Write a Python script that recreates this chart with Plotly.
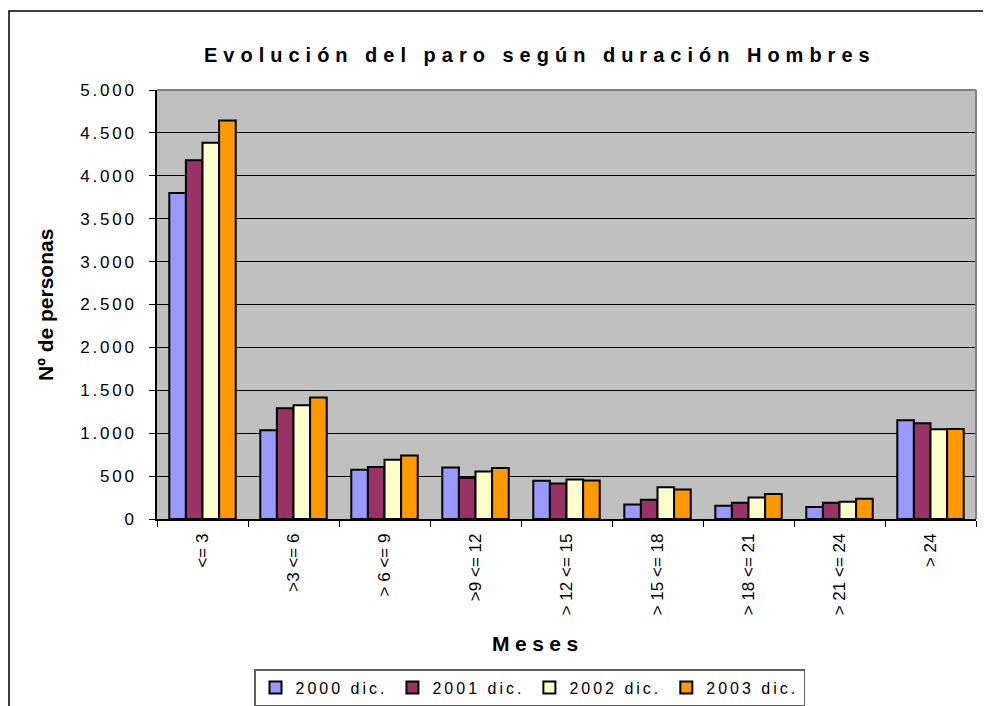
import plotly.graph_objects as go

categories = ["<= 3", ">3 <= 6", "> 6 <= 9", ">9 <= 12", "> 12 <= 15",
              "> 15 <= 18", "> 18 <= 21", "> 21 <= 24", "> 24"]
series_names = ["2000 dic.", "2001 dic.", "2002 dic.", "2003 dic."]
v2000 = [3800, 1035, 575, 600, 445, 170, 155, 140, 1150]
v2001 = [4180, 1290, 605, 480, 415, 225, 190, 190, 1115]
v2002 = [4385, 1325, 690, 555, 460, 370, 250, 200, 1045]
v2003 = [4645, 1415, 740, 595, 450, 345, 290, 235, 1050]
colors = ["#9999FF", "#993366", "#FFFFCC", "#FF9900"]
y_ticks = [0, 500, 1000, 1500, 2000, 2500, 3000, 3500, 4000, 4500, 5000]
y_ticktext = ["0", "500", "1.000", "1.500", "2.000", "2.500", "3.000",
              "3.500", "4.000", "4.500", "5.000"]

FONT = "Arial, 'Liberation Sans', sans-serif"


def sp(t, ls=3.5):
    return f"<span style='letter-spacing:{ls}px'>{t}</span>"


fig = go.Figure()
for name, vals, col in zip(series_names, [v2000, v2001, v2002, v2003], colors):
    fig.add_trace(go.Bar(
        x=categories, y=vals, name=sp(name, 3),
        marker=dict(color=col, line=dict(color="black", width=2)),
    ))

OFF = 8  # page body margin
W, H = 991 - OFF, 706 - OFF
L = 157 - OFF
T = 90 - OFF
R = W - (976 - OFF)
B = H - (519 - OFF)
pw = W - L - R
ph = H - T - B


def px_x(x):
    return (x - OFF - L) / pw


def px_y(y):
    return (H - B - (y - OFF)) / ph


fig.update_layout(
    width=W, height=H,
    margin=dict(l=L, r=R, t=T, b=B, autoexpand=False),
    paper_bgcolor="white",
    plot_bgcolor="#C0C0C0",
    font=dict(family=FONT, color="black", size=16),
    barmode="group",
    bargap=0.27,
    bargroupgap=0,
    showlegend=True,
    legend=dict(
        orientation="h",
        x=px_x(254), xanchor="left",
        y=px_y(669), yanchor="top",
        bordercolor="#606060", borderwidth=1.5,
        bgcolor="white",
        font=dict(size=16, family=FONT),
        tracegroupgap=0,
        itemwidth=30,
    ),
    xaxis=dict(
        type="category",
        tickangle=-90,
        ticks="outside", ticklen=6, tickcolor="black", tickwidth=1,
        tickson="boundaries",
        showline=True, linecolor="black", linewidth=1.5,
        showgrid=False,
        tickfont=dict(size=17, family=FONT),
        ticklabelstandoff=6,
        automargin=False,
    ),
    yaxis=dict(
        range=[0, 5000],
        tickvals=y_ticks,
        ticktext=[sp(t, 2.8) for t in y_ticktext],
        ticks="outside", ticklen=6, tickcolor="black", tickwidth=1,
        showline=True, linecolor="black", linewidth=1.5,
        showgrid=True, gridcolor="black", gridwidth=1,
        zeroline=False,
        tickfont=dict(size=17, family=FONT),
        ticklabelstandoff=9,
        automargin=False,
    ),
    annotations=[
        dict(text=sp("<b>Evolución del paro según duración Hombres</b>", 6),
             xref="paper", yref="paper", x=px_x(540), y=px_y(55),
             xanchor="center", yanchor="middle", showarrow=False,
             font=dict(size=20, family=FONT)),
        dict(text="<b>Nº de personas</b>",
             xref="paper", yref="paper", x=px_x(45), y=px_y(305),
             xanchor="center", yanchor="middle", textangle=-90, showarrow=False,
             font=dict(size=21, family=FONT)),
        dict(text=sp("<b>Meses</b>", 5.5),
             xref="paper", yref="paper", x=px_x(538), y=px_y(643),
             xanchor="center", yanchor="middle", showarrow=False,
             font=dict(size=21, family=FONT)),
    ],
    shapes=[
        dict(type="rect", xref="paper", yref="paper",
             x0=px_x(9), x1=px_x(1010), y0=px_y(740), y1=px_y(11),
             line=dict(color="black", width=1.5), layer="below"),
        dict(type="line", xref="paper", yref="paper",
             x0=0, x1=1, y0=1, y1=1,
             line=dict(color="#808080", width=2), layer="above"),
        dict(type="line", xref="paper", yref="paper",
             x0=1, x1=1, y0=0, y1=1,
             line=dict(color="#808080", width=2), layer="above"),
    ],
)

fig.write_html("out.html")
